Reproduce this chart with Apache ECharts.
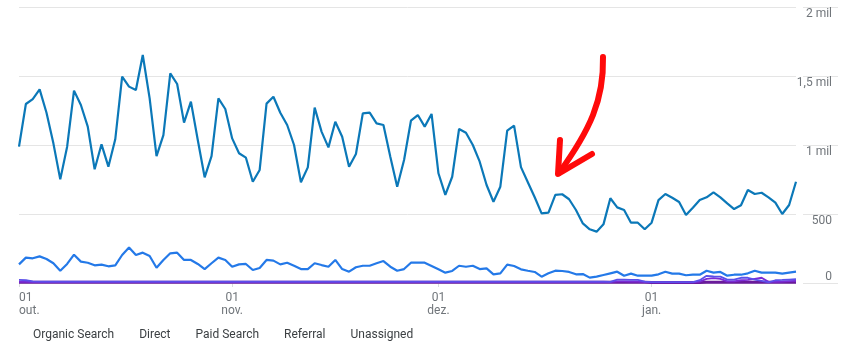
<!DOCTYPE html>
<html>
<head>
<meta charset="utf-8">
<script src="https://cdn.jsdelivr.net/npm/echarts@6/dist/echarts.min.js"></script>
<style>
html,body{margin:0;padding:0;background:#fff;}
#c{width:846px;height:355px;}
</style>
</head>
<body>
<div id="c"></div>
<script>
// ---- data ----
const startDate = '2023-10-01';
const dayCount = 114;
const monthLabels = {10:'out.', 11:'nov.', 12:'dez.', 1:'jan.'};
const seriesNames = ['Organic Search','Direct','Paid Search','Referral','Unassigned'];
const yTickLabels = {0:'0', 500:'500', 1000:'1 mil', 1500:'1,5 mil', 2000:'2 mil'};

const organicSearch = [988,1297,1333,1403,1234,1012,751,988,1394,1290,1133,824,1005,843,1041,1495,1423,1399,1652,1338,
  920,1072,1519,1442,1162,1314,1036,766,920,1338,1261,1048,940,908,734,819,1300,1350,1234,1145,
  1000,730,838,1271,1097,983,1169,1060,843,935,1229,1234,1157,1145,915,698,891,1176,1217,1133,
  1225,795,638,770,1116,1089,1000,879,710,589,698,1104,1140,840,730,621,505,510,638,643,
  607,529,432,389,372,425,614,548,529,437,437,389,437,601,645,618,587,493,546,601,
  621,657,621,577,536,563,674,645,654,621,582,500,565,734];
const direct = [135,184,179,193,174,143,89,138,205,155,147,128,133,121,128,203,258,203,220,196,
  111,167,215,220,167,167,138,101,143,184,167,118,135,138,94,109,167,162,135,147,
  125,101,101,143,130,118,167,101,82,114,125,125,143,159,118,89,101,147,147,147,
  123,99,75,87,125,118,125,101,106,63,70,133,123,99,89,80,46,70,89,87,
  80,63,65,39,46,58,70,82,53,68,53,53,53,63,82,68,68,56,60,60,
  89,75,80,53,60,60,70,89,75,75,75,68,75,82];
const paidSearch = [22,20,12,10,10,10,10,10,10,10,10,10,10,10,10,10,10,10,10,10,
  10,10,10,10,10,10,10,10,10,10,10,10,10,10,10,10,10,10,10,10,
  10,10,10,10,10,10,10,10,10,10,10,10,10,10,10,10,10,10,10,10,
  10,10,10,10,10,10,10,10,10,10,10,10,10,10,10,10,10,10,10,10,
  10,10,10,10,10,10,8,25,25,22,22,10,6,6,6,6,6,6,6,20,
  52,47,46,25,25,38,38,25,15,5,20,22,25,28];
const referral = [8,8,7,7,7,7,7,7,7,7,7,7,7,7,7,7,7,7,7,7,
  7,7,7,7,7,7,7,7,7,7,7,7,7,7,7,7,7,7,7,7,
  7,7,7,7,7,7,7,7,7,7,7,7,7,7,7,7,7,7,7,7,
  7,7,7,7,7,7,7,7,7,7,7,7,7,7,7,7,7,7,7,7,
  7,7,7,7,7,7,7,12,12,10,10,7,5,5,5,5,5,5,5,10,
  30,35,30,12,12,20,22,30,38,8,8,10,14,16];
const unassigned = [5,5,5,5,5,5,5,5,5,5,5,5,5,5,5,5,5,5,5,5,
  5,5,5,5,5,5,5,5,5,5,5,5,5,5,5,5,5,5,5,5,
  5,5,5,5,5,5,5,5,5,5,5,5,5,5,5,5,5,5,5,5,
  5,5,5,5,5,5,5,5,5,5,5,5,5,5,5,5,5,5,5,5,
  5,5,5,5,5,5,5,5,5,5,5,5,4,4,4,4,4,4,4,4,
  5,5,5,5,5,5,5,5,5,5,5,5,5,5];

// categories: consecutive days
const categories = [];
{
  const d = new Date(startDate + 'T00:00:00Z');
  for (let i = 0; i < dayCount; i++) {
    const dd = new Date(d.getTime() + i * 86400000);
    categories.push(dd.toISOString().slice(0, 10));
  }
}

const colors = ['#0b78b8', '#2479e8', '#5b4fe9', '#7a2bd6', '#6a1b9a'];
const seriesData = [organicSearch, direct, paidSearch, referral, unassigned];
const widths = [2.2, 2.2, 1.8, 1.8, 3];

const isMonthStart = (idx, val) => String(val).slice(8, 10) === '01';

const chart = echarts.init(document.getElementById('c'), null, {renderer: 'canvas'});
const gridColor = '#e5e5e5';
const textColor = '#70757a';

const option = {
  animation: false,
  backgroundColor: '#fff',
  color: colors,
  textStyle: {fontFamily: 'Roboto'},
  legend: {
    left: 23, top: 324,
    icon: 'rect', itemWidth: 0, itemHeight: 0, itemGap: 20,
    textStyle: {color: '#3c4043', fontSize: 12, fontFamily: 'Roboto'},
    data: seriesNames
  },
  grid: [
    {left: 19, top: 7, width: 777, height: 276},
    {left: 803, top: 7, width: 35, height: 276}
  ],
  xAxis: [
    {
      type: 'category', gridIndex: 0, data: categories, boundaryGap: false,
      axisLine: {show: false},
      axisTick: {show: true, interval: isMonthStart, length: 4, lineStyle: {color: '#dadce0'}},
      axisLabel: {
        interval: isMonthStart, color: textColor, fontSize: 12, lineHeight: 13, margin: 8,
        fontFamily: 'Roboto', alignMinLabel: 'left',
        formatter: (val) => '01\n' + monthLabels[parseInt(String(val).slice(5, 7), 10)]
      },
      splitLine: {show: false}
    },
    {type: 'value', gridIndex: 1, show: false, min: 0, max: 1}
  ],
  yAxis: [
    {
      type: 'value', gridIndex: 0, min: 0, max: 2000, interval: 500,
      axisLine: {show: false}, axisTick: {show: false}, axisLabel: {show: false},
      splitLine: {lineStyle: {color: gridColor, width: 1}}
    },
    {
      type: 'value', gridIndex: 1, min: 0, max: 2000, interval: 500, position: 'right',
      axisLine: {show: false}, axisTick: {show: false},
      axisLabel: {
        inside: true, margin: 6, color: textColor, fontSize: 12, fontFamily: 'Roboto',
        verticalAlign: 'top', verticalAlignMinLabel: 'bottom', padding: [1, 0, 0, 0],
        formatter: (v) => yTickLabels[v] !== undefined ? yTickLabels[v] : ''
      },
      splitLine: {lineStyle: {color: gridColor, width: 1}}
    }
  ],
  series: seriesNames.map((name, k) => ({
    name, type: 'line', xAxisIndex: 0, yAxisIndex: 0,
    data: seriesData[k], showSymbol: false, symbol: 'none',
    lineStyle: {width: widths[k], color: colors[k]},
    z: 10 - k
  })).reverse(),
  graphic: [
    {
      type: 'bezierCurve', z: 100,
      shape: {x1: 603, y1: 57, cpx1: 604, cpy1: 100, cpx2: 590, cpy2: 130, x2: 559, y2: 173},
      style: {fill: null, stroke: '#ff0a0a', lineWidth: 6, lineCap: 'round', lineJoin: 'round'}
    },
    {
      type: 'polyline', z: 100,
      shape: {points: [[560, 140], [558, 174], [592, 154]]},
      style: {fill: null, stroke: '#ff0a0a', lineWidth: 6, lineCap: 'round', lineJoin: 'round'}
    }
  ]
};
chart.setOption(option);
</script>
</body>
</html>
